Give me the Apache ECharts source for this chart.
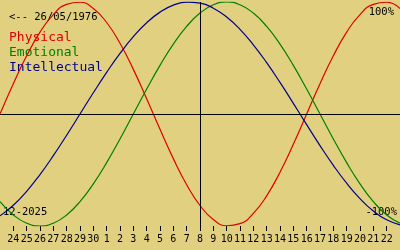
<!DOCTYPE html>
<html>
<head>
<meta charset="utf-8">
<script src="https://cdn.jsdelivr.net/npm/echarts@6/dist/echarts.min.js"></script>
<style>html,body{margin:0;padding:0;background:#e0d080;}#c{width:400px;height:250px;}</style>
</head>
<body>
<div id="c"></div>
<script>
// day-of-month labels, one per day (first and last are off-screen edges)
var days = ['23','24','25','26','27','28','29','30','1','2','3','4','5','6','7','8','9','10','11','12','13','14','15','16','17','18','19','20','21','22','23'];
// biorhythm values, -1 .. 1
var physical = [0,0.2698,0.5196,0.7308,0.8879,0.9791,0.9977,0.9423,0.8170,0.6310,0.3984,0.1362,-0.1362,-0.3984,-0.6310,-0.8170,-0.9423,-0.9977,-0.9791,-0.8879,-0.7308,-0.5196,-0.2698,0,0.2698,0.5196,0.7308,0.8879,0.9791,0.9977,0.9423];
var emotional = [-0.7818,-0.9010,-0.9749,-1,-0.9749,-0.9010,-0.7818,-0.6235,-0.4339,-0.2225,0,0.2225,0.4339,0.6235,0.7818,0.9010,0.9749,1,0.9749,0.9010,0.7818,0.6235,0.4339,0.2225,0,-0.2225,-0.4339,-0.6235,-0.7818,-0.9010,-0.9749];
var intellectual = [-0.9096,-0.8146,-0.6901,-0.5406,-0.3717,-0.1893,0,0.1893,0.3717,0.5406,0.6901,0.8146,0.9096,0.9718,0.9989,0.9898,0.9450,0.8660,0.7557,0.6182,0.4582,0.2817,0.0951,-0.0951,-0.2817,-0.4582,-0.6182,-0.7557,-0.8660,-0.9450,-0.9898];
var todayIndex = 15;
var birthText = '<-- 26/05/1976';
var monthText = '12-2025';
var legendNames = ['Physical','Emotional','Intellectual'];
var colors = ['#e00000','#008000','#000090'];

var chart = echarts.init(document.getElementById('c'), null, {renderer:'canvas'});
var mono = '"DejaVu Sans Mono", monospace';
function mk(name, data, color, extra){
  var s = {name:name, type:'line', data:data, smooth:0.5, symbol:'none',
    lineStyle:{color:color, width:1.2}, itemStyle:{color:color}, silent:true, animation:false, z:3};
  if(extra) s.markLine = extra;
  return s;
}
var ml = {silent:true, symbol:'none', label:{show:false}, animation:false,
  lineStyle:{color:'#000', width:1, type:'solid'},
  data:[{yAxis:0},{xAxis:todayIndex}]};
chart.setOption({
  backgroundColor:'#e0d080',
  animation:false,
  grid:{left:0,right:0,top:2,bottom:24},
  xAxis:{type:'category', data:days, boundaryGap:false, position:'bottom',
    axisLine:{show:false, onZero:false},
    axisTick:{show:true, length:5, lineStyle:{color:'#000',width:1},
      interval:function(i){return i>0 && i<days.length-1;}},
    axisLabel:{show:true, margin:8, color:'#000', fontFamily:mono, fontSize:10,
      interval:function(i){return i>0 && i<days.length-1;}},
    splitLine:{show:false}},
  yAxis:{type:'value', min:-1, max:1, show:false},
  series:[mk(legendNames[0],physical,colors[0],ml), mk(legendNames[1],emotional,colors[1]), mk(legendNames[2],intellectual,colors[2])],
  graphic:[
    {type:'text', left:9, top:12, style:{text:birthText, fill:'#000', font:'10.5px '+mono}},
    {type:'text', left:9, top:31, style:{text:legendNames[0], fill:colors[0], font:'13px '+mono}},
    {type:'text', left:9, top:46, style:{text:legendNames[1], fill:colors[1], font:'13px '+mono}},
    {type:'text', left:9, top:61, style:{text:legendNames[2], fill:colors[2], font:'13px '+mono}},
    {type:'text', right:6, top:7, style:{text:'100%', fill:'#000', font:'10.5px '+mono}},
    {type:'text', right:3, top:207, style:{text:'-100%', fill:'#000', font:'10.5px '+mono}},
    {type:'text', left:3, top:207, style:{text:monthText, fill:'#000', font:'10.5px '+mono}}
  ]
});
</script>
</body>
</html>
